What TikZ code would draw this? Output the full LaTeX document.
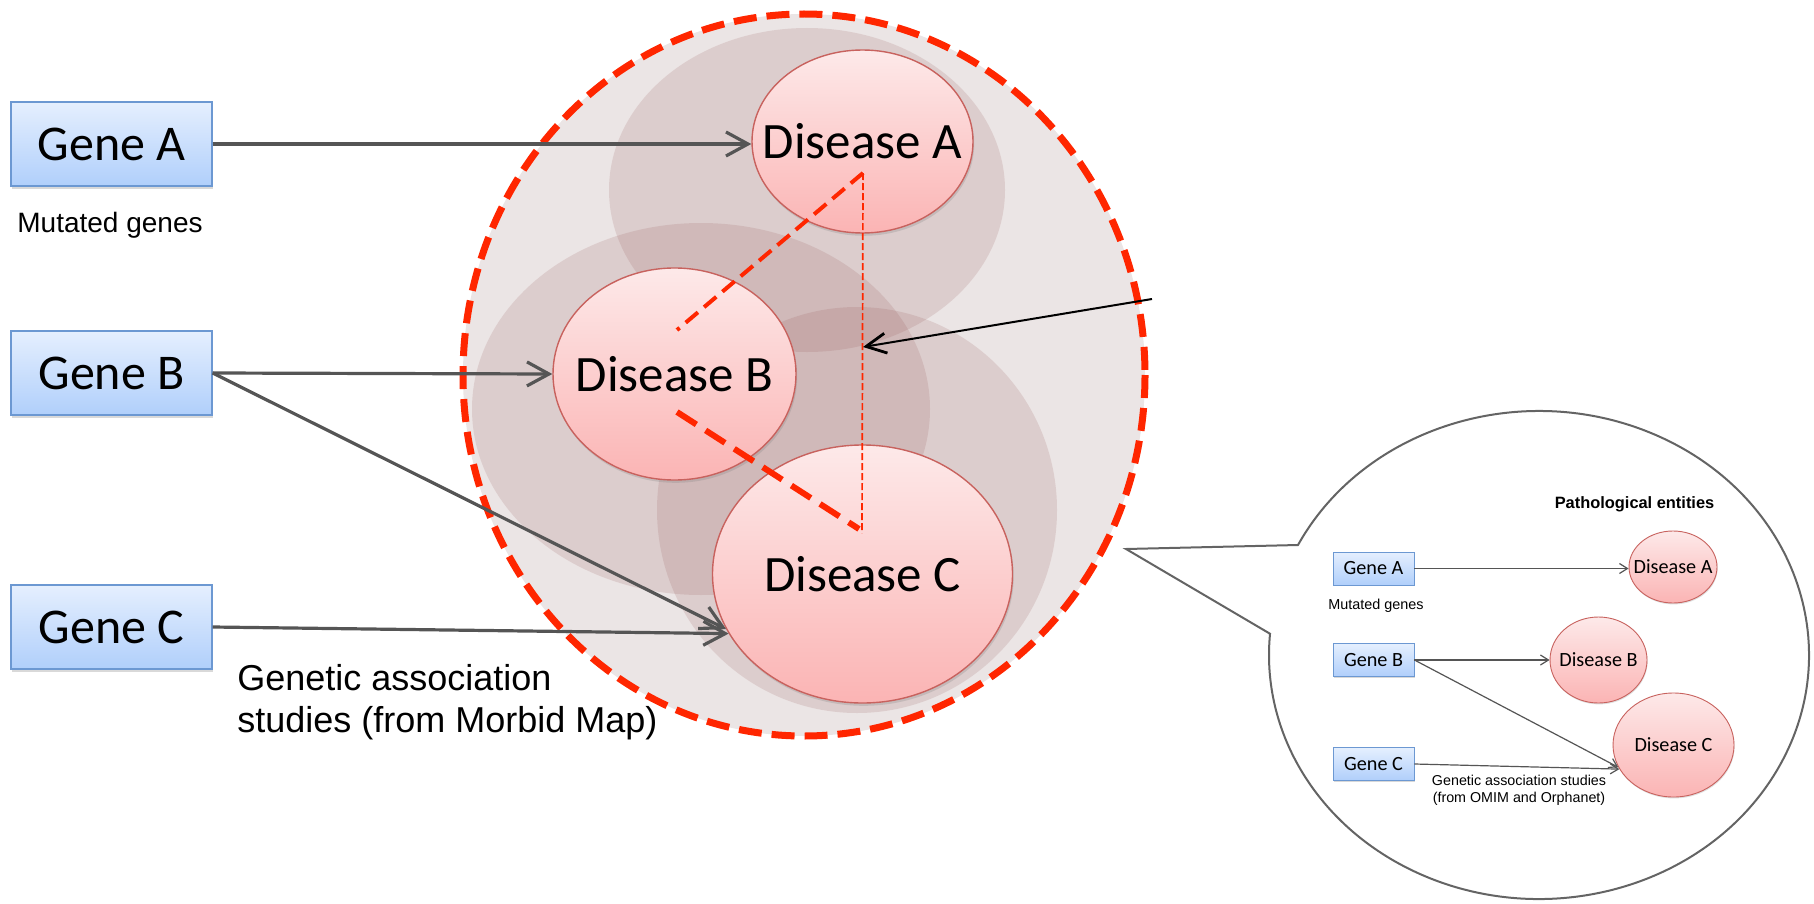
\documentclass[tikz,border=0pt]{standalone}
\usepackage{fontspec}
\setmainfont{Liberation Sans}
\newfontfamily\calibri{Carlito}
\usetikzlibrary{arrows.meta,shapes.geometric,shadows}

\definecolor{genetop}{RGB}{229,239,254}
\definecolor{genebot}{RGB}{176,207,251}
\definecolor{geneedge}{RGB}{108,152,210}
\definecolor{distop}{RGB}{253,233,233}
\definecolor{disbot}{RGB}{251,180,180}
\definecolor{disedge}{RGB}{200,98,94}
\definecolor{zonefill}{RGB}{235,229,229}
\definecolor{blobtint}{RGB}{150,90,90}
\definecolor{linkred}{RGB}{255,38,0}
\definecolor{arrowgray}{RGB}{85,85,85}
\definecolor{calloutgray}{RGB}{100,100,100}

% zero-width label so that the ellipse size comes from minimum width/height alone
\newcommand{\zerowd}[1]{\makebox[0pt]{#1}}

\begin{document}
\begin{tikzpicture}[x=0.5pt,y=-0.5pt,
  genebase/.style={rectangle, draw=geneedge, top color=genetop, bottom color=genebot, inner sep=0pt},
  genebox/.style={genebase, line width=0.7pt, minimum width=100.5pt, minimum height=42pt,
    font=\calibri\fontsize{25}{30}\selectfont,
    drop shadow={opacity=0.3, shadow xshift=0.6pt, shadow yshift=-1.4pt}},
  smallgene/.style={genebase, line width=0.45pt, minimum width=40.5pt, minimum height=16.5pt,
    font=\calibri\fontsize{10.1}{12}\selectfont,
    drop shadow={opacity=0.3, shadow xshift=0.3pt, shadow yshift=-0.7pt}},
  disbase/.style={ellipse, draw=disedge, top color=distop, bottom color=disbot, inner sep=0pt},
  disease/.style={disbase, line width=0.7pt, font=\calibri\fontsize{25.5}{30}\selectfont,
    drop shadow={opacity=0.25, shadow xshift=0.6pt, shadow yshift=-1.4pt}},
  smalldis/.style={disbase, line width=0.45pt, font=\calibri\fontsize{10.1}{12}\selectfont,
    drop shadow={opacity=0.25, shadow xshift=0.3pt, shadow yshift=-0.7pt}},
  caption/.style={inner sep=0pt},
  bigarrow/.style={draw=arrowgray, line width=1.6pt, -{Straight Barb[length=11pt,width=12pt]}},
  smallarrow/.style={draw=arrowgray, line width=0.6pt, -{Straight Barb[length=4pt,width=5pt]}},
  pointer/.style={draw=black, line width=1pt, -{Straight Barb[length=10pt,width=10pt,line width=1.4pt]}},
  blob/.style={fill=blobtint, fill opacity=0.17},
  link/.style={draw=linkred},
]
\useasboundingbox (0,0) rectangle (1814,904);

% the dashed zone holding the pathological entities
\draw[linkred, line width=3.5pt, dash pattern=on 11.5pt off 5pt, fill=zonefill]
  (804,375) ellipse [x radius=341, y radius=361];

% soft halos behind the diseases
\fill[blob] (807,190) ellipse [x radius=198, y radius=162];
\fill[blob] (701,409) ellipse [x radius=229, y radius=186];
\fill[blob] (857,510) ellipse [x radius=200, y radius=203];

% genes
\node[genebox] (geneA) at (111.5,144) {Gene A};
\node[genebox] (geneB) at (111.5,373) {Gene B};
\node[genebox] (geneC) at (111.5,627) {Gene C};

% diseases
\node[disease, minimum width=110.5pt, minimum height=91.5pt] (disA) at (862.5,141.5) {\zerowd{Disease A}};
\node[disease, minimum width=121.5pt, minimum height=106pt] (disB) at (674.5,374) {\zerowd{Disease B}};
\node[disease, minimum width=150pt, minimum height=129pt] (disC) at (862.5,574) {\zerowd{Disease C}};

% labels
\node[caption, anchor=base west, font=\fontsize{14}{17}\selectfont] (mut) at (17,232) {Mutated genes};
\node[caption, anchor=base west, align=left, font=\fontsize{18}{21}\selectfont] (gas) at (237,732)
  {Genetic association\\studies (from Morbid Map)};

% links between the diseases
\coordinate (ab) at (863,173);
\coordinate (ba) at (677,330);
\coordinate (bc) at (677,412);
\coordinate (cb) at (859,529);
\coordinate (cv) at (862,533);
\draw[link, line width=2pt, dash pattern=on 8pt off 4pt] (ab) -- (ba);
\draw[link, line width=3pt, dash pattern=on 11.5pt off 5.5pt] (bc) -- (cb);
\draw[link, line width=0.85pt, dash pattern=on 3.5pt off 1.5pt] (ab) -- (cv);

% gene to disease associations
\draw[bigarrow] (geneA.east) -- (geneA.east -| disA.west);
\draw[bigarrow] (geneB.east) -- (disB.west);
\draw[bigarrow] (geneB.east) -- (disC.202);
\draw[bigarrow] (geneC.east) -- (disC.204);

% pointer to the shared link
\coordinate (ptail) at (1152,299);
\coordinate (phit) at (863,347);
\draw[pointer] (ptail) -- (phit);

% callout bubble
\draw[calloutgray, line width=1pt, fill=white]
  (1126,549) -- (1298,545) arc[start angle=206.8, end angle=545, x radius=270, y radius=244] -- cycle;

% small version inside the bubble
\node[caption, font=\bfseries\fontsize{8.2}{10}\selectfont] (pe) at (1634.5,504) {Pathological entities};
\node[smallgene] (sgA) at (1373.5,568.5) {Gene A};
\node[smallgene] (sgB) at (1373.5,660) {Gene B};
\node[smallgene] (sgC) at (1373.5,764) {Gene C};
\node[smalldis, minimum width=44pt, minimum height=36pt] (sdA) at (1673,567) {\zerowd{Disease A}};
\node[smalldis, minimum width=48.5pt, minimum height=43pt] (sdB) at (1598.5,660) {\zerowd{Disease B}};
\node[smalldis, minimum width=60.5pt, minimum height=52pt] (sdC) at (1673.5,745) {\zerowd{Disease C}};
\node[caption, anchor=base west, font=\fontsize{7.2}{9}\selectfont] (smut) at (1328,609) {Mutated genes};
\node[caption, align=center, font=\fontsize{7.15}{8.5}\selectfont] (sgas) at (1519,790)
  {Genetic association studies\\(from OMIM and Orphanet)};

\draw[smallarrow] (sgA.east) -- (sgA.east -| sdA.west);
\draw[smallarrow] (sgB.east) -- (sdB.west);
\draw[smallarrow] (sgB.east) -- (sdC.202);
\draw[smallarrow] (sgC.east) -- (sdC.204);
\end{tikzpicture}
\end{document}
